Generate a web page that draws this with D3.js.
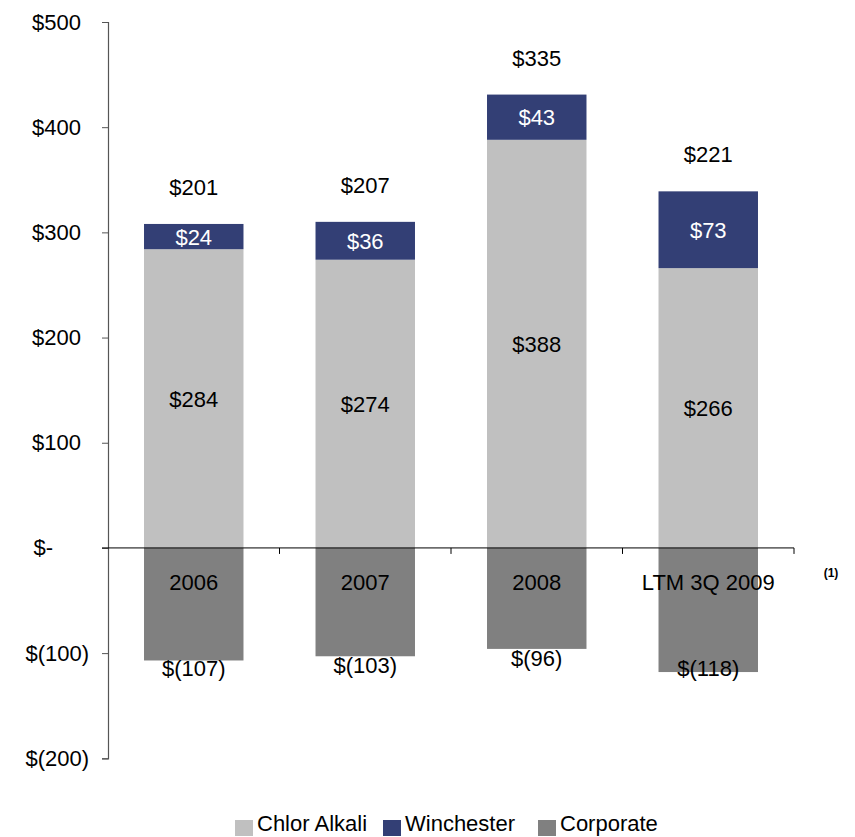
<!DOCTYPE html>
<html><head><meta charset="utf-8">
<script src="https://cdn.jsdelivr.net/npm/d3@7"></script>
<style>body{margin:0;background:#fff}svg{display:block}text{font-family:"Liberation Sans",Arial,sans-serif;fill:#000}</style>
</head><body>
<script>
const categories = ["2006", "2007", "2008", "LTM 3Q 2009"];
const chlorAlkali = [284, 274, 388, 266];
const winchester = [24, 36, 43, 73];
const corporate = [-107, -103, -96, -118];
const totals = [201, 207, 335, 221];
const yTicks = [500, 400, 300, 200, 100, 0, -100, -200];
const seriesNames = ["Chlor Alkali", "Winchester", "Corporate"];
const colors = ["#c0c0c0", "#333f75", "#808080"];

const W = 855, H = 837, FS = 22;
const svg = d3.select("body").append("svg").attr("width", W).attr("height", H);
const y = d3.scaleLinear().domain([-200, 500]).range([758.3, 22]);
const x = d3.scaleBand().domain(categories).range([108, 794]).paddingInner(0.42).paddingOuter(0.21);

const fmt = v => v === 0 ? "$-" : v < 0 ? "$(" + Math.abs(v) + ")" : "$" + v;

// bars
const g = svg.append("g");
categories.forEach((c, i) => {
  const x0 = x(c), bw = x.bandwidth();
  g.append("rect").attr("x", x0).attr("width", bw).attr("y", y(chlorAlkali[i])).attr("height", y(0) - y(chlorAlkali[i])).attr("fill", colors[0]);
  g.append("rect").attr("x", x0).attr("width", bw).attr("y", y(chlorAlkali[i] + winchester[i])).attr("height", y(chlorAlkali[i]) - y(chlorAlkali[i] + winchester[i])).attr("fill", colors[1]);
  g.append("rect").attr("x", x0).attr("width", bw).attr("y", y(0)).attr("height", y(corporate[i]) - y(0)).attr("fill", colors[2]);
});

// y axis
const yAxis = d3.axisLeft(y).tickValues(yTicks).tickSize(6).tickFormat(fmt);
const ya = svg.append("g").attr("transform", "translate(108,0)").call(yAxis);
ya.select(".domain").attr("stroke", "#555").attr("stroke-width", 1.2);
ya.selectAll(".tick line").attr("stroke", "#555");
ya.selectAll(".tick text").attr("font-size", FS).attr("font-family", "Liberation Sans, Arial, sans-serif")
  .attr("fill", "#000")
  .attr("x", d => d === 0 ? -55 : d < 0 ? -19 : -27);

// zero line with category ticks
svg.append("line").attr("x1", 102).attr("x2", 794).attr("y1", y(0)).attr("y2", y(0)).attr("stroke", "#000").attr("stroke-width", 1);
const bounds = categories.map(c => x(c) - x.step() * 0.21).concat([794]);
svg.selectAll(".ct").data(bounds.slice(1)).enter().append("line")
  .attr("x1", d => d).attr("x2", d => d).attr("y1", y(0)).attr("y2", y(0) + 6).attr("stroke", "#000");

// category labels
svg.selectAll(".cl").data(categories).enter().append("text")
  .attr("x", d => x(d) + x.bandwidth() / 2).attr("y", y(0) + 42).attr("text-anchor", "middle")
  .attr("font-size", FS).text(d => d);
svg.append("text").attr("x", 831).attr("y", 577).attr("text-anchor", "middle").attr("font-size", 12).attr("font-weight", "bold").text("(1)");

// value labels
categories.forEach((c, i) => {
  const cx = x(c) + x.bandwidth() / 2;
  svg.append("text").attr("x", cx).attr("y", y((chlorAlkali[i]) / 2) + 8).attr("text-anchor", "middle").attr("font-size", FS).text(fmt(chlorAlkali[i]));
  svg.append("text").attr("x", cx).attr("y", y(chlorAlkali[i] + winchester[i] / 2) + 8).attr("text-anchor", "middle").attr("font-size", FS).style("fill", "#fff").text(fmt(winchester[i]));
  svg.append("text").attr("x", cx).attr("y", y(chlorAlkali[i] + winchester[i]) - 29).attr("text-anchor", "middle").attr("font-size", FS).text(fmt(totals[i]));
  svg.append("text").attr("x", cx).attr("y", Math.min(y(corporate[i]) + 17, 676)).attr("text-anchor", "middle").attr("font-size", FS).text(fmt(corporate[i]));
});

// legend
const legX = [235, 383, 538];
seriesNames.forEach((s, i) => {
  svg.append("rect").attr("x", legX[i]).attr("y", 820).attr("width", 18).attr("height", 16).attr("fill", colors[i]);
  svg.append("text").attr("x", legX[i] + 22).attr("y", 831).attr("font-size", FS).text(s);
});
</script>
</body></html>
